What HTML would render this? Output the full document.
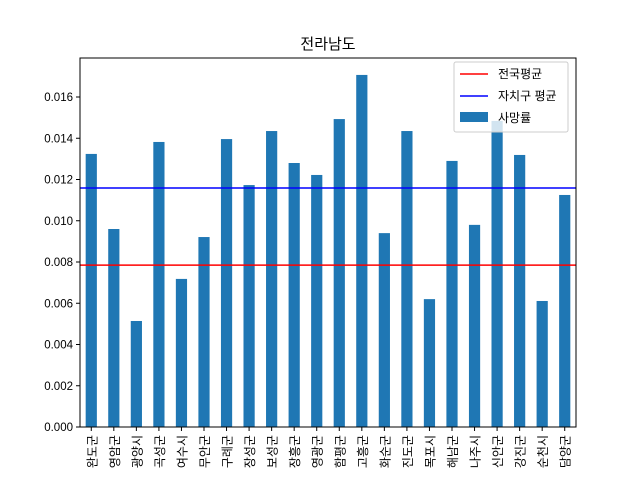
<!DOCTYPE html>
<html><head><meta charset="utf-8"><style>
body{margin:0;background:#fff;}
svg text{font-family:"Liberation Sans","Noto Sans CJK KR",sans-serif;}
</style></head><body>
<svg id="c" width="640" height="480" xmlns="http://www.w3.org/2000/svg"></svg>
<script>
const categories=["완도군","영암군","광양시","곡성군","여수시","무안군","구례군","장성군","보성군","장흥군","영광군","함평군","고흥군","화순군","진도군","목포시","해남군","나주시","신안군","강진군","순천시","담양군"];
const values=[0.01324,0.0096,0.00514,0.01382,0.00718,0.00921,0.01396,0.01173,0.01435,0.0128,0.01222,0.01493,0.01707,0.0094,0.01435,0.0062,0.0129,0.0098,0.01484,0.01319,0.00611,0.01125];
const nationalAvg=0.00785;
const localAvg=0.01159;
const yTicks=[0,0.002,0.004,0.006,0.008,0.010,0.012,0.014,0.016];
const NS="http://www.w3.org/2000/svg";
const svg=document.getElementById('c');
const L=80,R=576,T=58,B=427;
const y=v=>B-v/0.002*41.25;
const step=(R-L)/categories.length;
const x=i=>L+step*(i+0.5);
function mk(t,a){const e=document.createElementNS(NS,t);for(const k in a)e.setAttribute(k,a[k]);svg.appendChild(e);return e;}
let t=mk('text',{x:328,y:49,'text-anchor':'middle','font-size':15});t.textContent='전라남도';


categories.forEach((c,i)=>{
  const r=mk('rect',{x:x(i)-5.6,y:y(values[i]),width:11.2,height:B-y(values[i]),fill:'#1f77b4'});
  
  
  mk('line',{x1:x(i),x2:x(i),y1:B,y2:B+4,stroke:'#000'});
  const lb=mk('text',{transform:`translate(${x(i)+5},${B+8}) rotate(-90)`,'text-anchor':'end','font-size':12});
  lb.textContent=c;
  
  
});
const l1=mk('line',{x1:L,x2:R,y1:y(nationalAvg),y2:y(nationalAvg),stroke:'#ff0000','stroke-width':1.5});


const l2=mk('line',{x1:L,x2:R,y1:y(localAvg),y2:y(localAvg),stroke:'#0000ff','stroke-width':1.5});


yTicks.forEach(v=>{
  mk('line',{x1:L-4,x2:L,y1:y(v),y2:y(v),stroke:'#000'});
  const tt=mk('text',{x:L-7,y:y(v)+4,'text-anchor':'end','font-size':11.5});
  tt.textContent=v.toFixed(3);
  
  
});
const ax=mk('rect',{x:L,y:T,width:R-L,height:B-T,fill:'none',stroke:'#000','stroke-width':1});


const lg=mk('rect',{x:454,y:62,width:114,height:70,fill:'#fff','fill-opacity':0.8,stroke:'#ccc',rx:2});


mk('line',{x1:460,x2:488,y1:74,y2:74,stroke:'#ff0000','stroke-width':1.5});
mk('line',{x1:460,x2:488,y1:96,y2:96,stroke:'#0000ff','stroke-width':1.5});
mk('rect',{x:460,y:112,width:28,height:10,fill:'#1f77b4'});
[['전국평균',78],['자치구 평균',100],['사망률',122]].forEach(([s,yy])=>{
  const e=mk('text',{x:498,y:yy,'font-size':12});e.textContent=s;
  
  
});
</script>
</body></html>
